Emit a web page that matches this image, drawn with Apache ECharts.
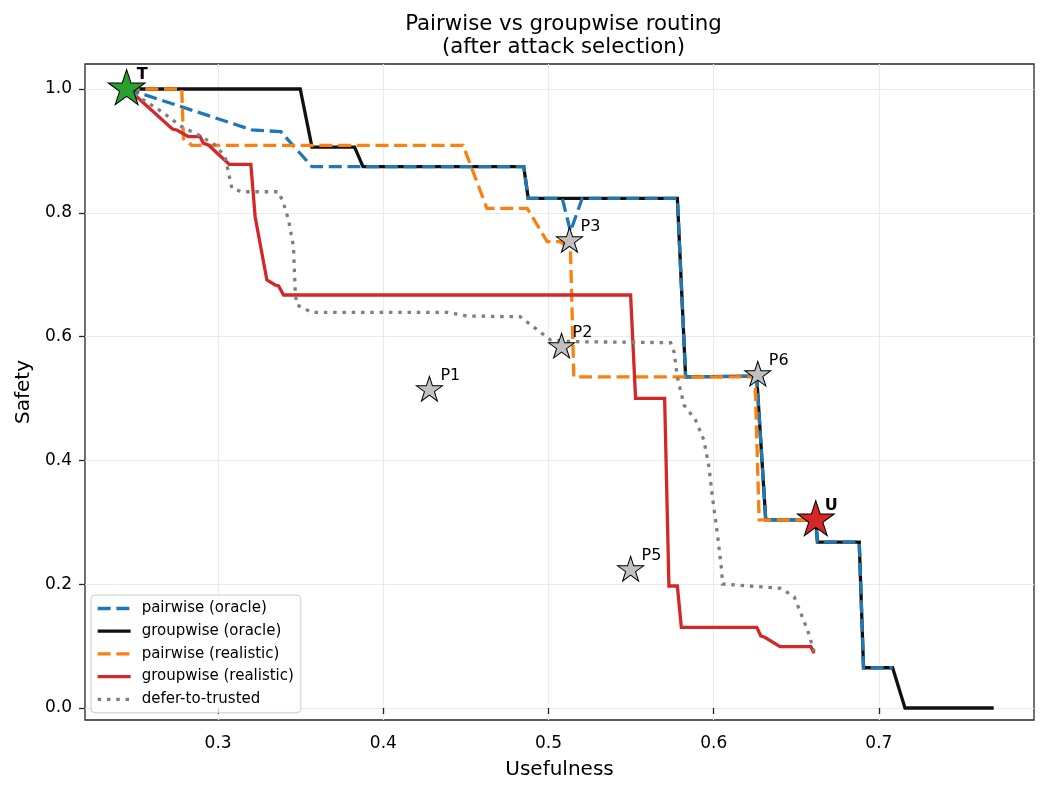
<!DOCTYPE html>
<html>
<head>
<meta charset="utf-8">
<script src="https://cdn.jsdelivr.net/npm/echarts@6/dist/echarts.min.js"></script>
<style>
html,body{margin:0;padding:0;background:#fff;}
#chart{width:1048px;height:793px;}
</style>
</head>
<body>
<div id="chart"></div>
<script>
// ---- data ----
const xTicks = [0.3, 0.4, 0.5, 0.6, 0.7];
const yTicks = [0.0, 0.2, 0.4, 0.6, 0.8, 1.0];

const pairwiseOracle = [[0.2446,1.0],[0.2507,0.995],[0.3204,0.934],[0.338,0.931],[0.3568,0.8745],[0.485,0.8745],[0.4877,0.8234],[0.5083,0.8234],[0.5133,0.770],[0.5204,0.8234],[0.578,0.8234],[0.583,0.535],[0.626,0.536],[0.6315,0.304],[0.6618,0.304],[0.6628,0.268],[0.6881,0.268],[0.6907,0.065],[0.7083,0.065]];
const groupwiseOracle = [[0.2446,1.0],[0.3497,1.0],[0.3568,0.906],[0.3826,0.906],[0.3877,0.8745],[0.485,0.8745],[0.4877,0.8234],[0.578,0.8234],[0.583,0.535],[0.626,0.536],[0.6315,0.304],[0.6618,0.304],[0.6628,0.268],[0.6881,0.268],[0.6907,0.065],[0.7083,0.065],[0.7158,0.0],[0.7695,0.0]];
const pairwiseRealistic = [[0.2446,1.0],[0.278,1.0],[0.279,0.92],[0.284,0.909],[0.4483,0.909],[0.4627,0.8073],[0.4871,0.8073],[0.4992,0.7533],[0.5073,0.7533],[0.5133,0.74],[0.5153,0.535],[0.578,0.535],[0.625,0.535],[0.6275,0.304],[0.6618,0.304]];
const groupwiseRealistic = [[0.2446,1.0],[0.2507,0.9876],[0.2723,0.9354],[0.2750,0.9338],[0.2820,0.923],[0.2891,0.923],[0.2911,0.9122],[0.2941,0.9095],[0.3067,0.8784],[0.3198,0.8784],[0.3224,0.7937],[0.3295,0.6914],[0.3345,0.6834],[0.3366,0.6818],[0.3396,0.6672],[0.5497,0.6672],[0.5527,0.5003],[0.5703,0.5003],[0.5729,0.1971],[0.5780,0.1971],[0.5804,0.1304],[0.6261,0.1304],[0.6285,0.1163],[0.6309,0.1142],[0.6402,0.099],[0.6588,0.099],[0.6608,0.0883]];
const deferToTrusted = [[0.2446,1.0],[0.2659,0.9633],[0.2780,0.939],[0.2881,0.9257],[0.2982,0.9095],[0.3042,0.8906],[0.3083,0.8396],[0.3144,0.834],[0.3366,0.834],[0.3396,0.8153],[0.3426,0.7884],[0.3456,0.7452],[0.3467,0.67],[0.3477,0.651],[0.3568,0.6392],[0.4386,0.6392],[0.4507,0.6333],[0.483,0.632],[0.5012,0.5945],[0.5153,0.5918],[0.5739,0.5902],[0.5760,0.575],[0.5780,0.5352],[0.5820,0.4895],[0.589,0.4653],[0.594,0.433],[0.5971,0.39],[0.5992,0.3414],[0.6022,0.2822],[0.6048,0.2229],[0.6053,0.2003],[0.6406,0.1934],[0.6487,0.1798],[0.6568,0.126],[0.6608,0.0911]];

const pointT = [0.2446, 1.0];
const pointU = [0.6618, 0.3037];
const pointNames = ['P1','P2','P3','P5','P6'];
const pointValues = [[0.4279,0.5137],[0.5079,0.5832],[0.5127,0.7544],[0.5497,0.2229],[0.6267,0.538]];

const seriesNames = ['pairwise (oracle)','groupwise (oracle)','pairwise (realistic)','groupwise (realistic)','defer-to-trusted'];

// ---- star symbol geometry ----
function starPath(){
  const pts=[];
  for(let k=0;k<10;k++){
    const r = (k%2===0)?100:38.1966;
    const a = (-90 + k*36)*Math.PI/180;
    pts.push((r*Math.cos(a)).toFixed(3)+','+(r*Math.sin(a)).toFixed(3));
  }
  return 'path://M'+pts.join('L')+'Z';
}
const STAR = starPath();
const starOff = h => [0, -h*0.0955/1.809];

const FONT = 'DejaVu Sans';
const chart = echarts.init(document.getElementById('chart'), null, {renderer:'canvas'});

function lineSeries(name, data, color, type, width, z){
  return {
    name, type:'line', data, showSymbol:false, symbol:'none', z,
    lineStyle:{color, width, type, cap:'butt', join:'miter'},
    itemStyle:{color},
    emphasis:{disabled:true}, animation:false
  };
}

const option = {
  animation:false,
  backgroundColor:'#ffffff',
  title:{
    text:'Pairwise vs groupwise routing\n(after attack selection)',
    left:558.5, top:8, textAlign:'center',
    textStyle:{fontFamily:FONT, fontSize:21.3, fontWeight:'normal', color:'#000', lineHeight:23}
  },
  grid:{left:85, right:14, top:64, bottom:73, show:true, borderColor:'#262626', borderWidth:1.3, containLabel:false},
  legend:{
    data:seriesNames,
    orient:'vertical', left:91, top:595,
    padding:[6,7,6,5],
    itemWidth:33, itemHeight:12, itemGap:7.7,
    backgroundColor:'rgba(255,255,255,0.8)', borderColor:'#cccccc', borderWidth:1, borderRadius:4,
    itemStyle:{color:'rgba(0,0,0,0)', borderColor:'rgba(0,0,0,0)', borderWidth:0},
    lineStyle:{inherit:true, width:3.3},
    textStyle:{fontFamily:FONT, fontSize:15, color:'#000', lineHeight:15, padding:[0,0,0,6]},
    selectedMode:false
  },
  xAxis:{
    type:'value', min:0.2194, max:0.7939, splitNumber:5,
    name:'Usefulness', nameLocation:'middle', nameGap:40,
    nameTextStyle:{fontFamily:FONT, fontSize:20, color:'#000'},
    axisLine:{show:false},
    axisTick:{show:true, inside:false, length:6, lineStyle:{color:'#262626', width:1.3}, customValues:xTicks},
    axisLabel:{fontFamily:FONT, fontSize:17, color:'#000', margin:15, customValues:xTicks, formatter:v=>v.toFixed(1)},
    splitLine:{show:true, lineStyle:{color:'#ebebeb', width:1.2}}
  },
  yAxis:{
    type:'value', min:-0.0194, max:1.0404, splitNumber:5,
    name:'Safety', nameLocation:'middle', nameGap:51, nameRotate:90,
    nameTextStyle:{fontFamily:FONT, fontSize:20, color:'#000'},
    axisLine:{show:false},
    axisTick:{show:true, inside:false, length:6, lineStyle:{color:'#262626', width:1.3}, customValues:yTicks},
    axisLabel:{fontFamily:FONT, fontSize:17, color:'#000', margin:13, customValues:yTicks, formatter:v=>v.toFixed(1)},
    splitLine:{show:true, lineStyle:{color:'#ebebeb', width:1.2}}
  },
  series:[
    lineSeries(seriesNames[1], groupwiseOracle, '#111111', 'solid', 3.3, 2),
    lineSeries(seriesNames[0], pairwiseOracle, '#1f77b4', [13,5.7], 3.3, 3),
    lineSeries(seriesNames[2], pairwiseRealistic, '#ff7f0e', [13,5.7], 3.3, 4),
    lineSeries(seriesNames[3], groupwiseRealistic, '#d62728', 'solid', 3.3, 5),
    lineSeries(seriesNames[4], deferToTrusted, '#7f7f7f', [3.5,5.8], 3.3, 6),
    {
      name:'points', type:'scatter', z:10, animation:false,
      data: pointValues.map((v,i)=>({value:v, name:pointNames[i]})),
      symbol:STAR, symbolSize:[26,24.7], symbolOffset:starOff(24.7),
      itemStyle:{color:'#c0c0c0', borderColor:'#000', borderWidth:1, opacity:1},
      label:{show:true, formatter:p=>p.name, position:'inside', align:'left', verticalAlign:'middle', offset:[11,-13], fontFamily:FONT, fontSize:16, color:'#000'},
      emphasis:{disabled:true}
    },
    {
      name:'T', type:'scatter', z:11, animation:false,
      data:[{value:pointT, name:'T'}],
      symbol:STAR, symbolSize:[37,35.2], symbolOffset:starOff(35.2),
      itemStyle:{color:'#2ca02c', borderColor:'#000', borderWidth:1, opacity:1},
      label:{show:true, formatter:'T', position:'inside', align:'left', verticalAlign:'middle', offset:[10,-12], fontFamily:FONT, fontSize:16, fontWeight:'bold', color:'#000'},
      emphasis:{disabled:true}
    },
    {
      name:'U', type:'scatter', z:11, animation:false,
      data:[{value:pointU, name:'U'}],
      symbol:STAR, symbolSize:[37,35.2], symbolOffset:starOff(35.2),
      itemStyle:{color:'#d62728', borderColor:'#000', borderWidth:1, opacity:1},
      label:{show:true, formatter:'U', position:'inside', align:'left', verticalAlign:'middle', offset:[9,-12], fontFamily:FONT, fontSize:16, fontWeight:'bold', color:'#000'},
      emphasis:{disabled:true}
    }
  ]
};
chart.setOption(option);
</script>
</body>
</html>
